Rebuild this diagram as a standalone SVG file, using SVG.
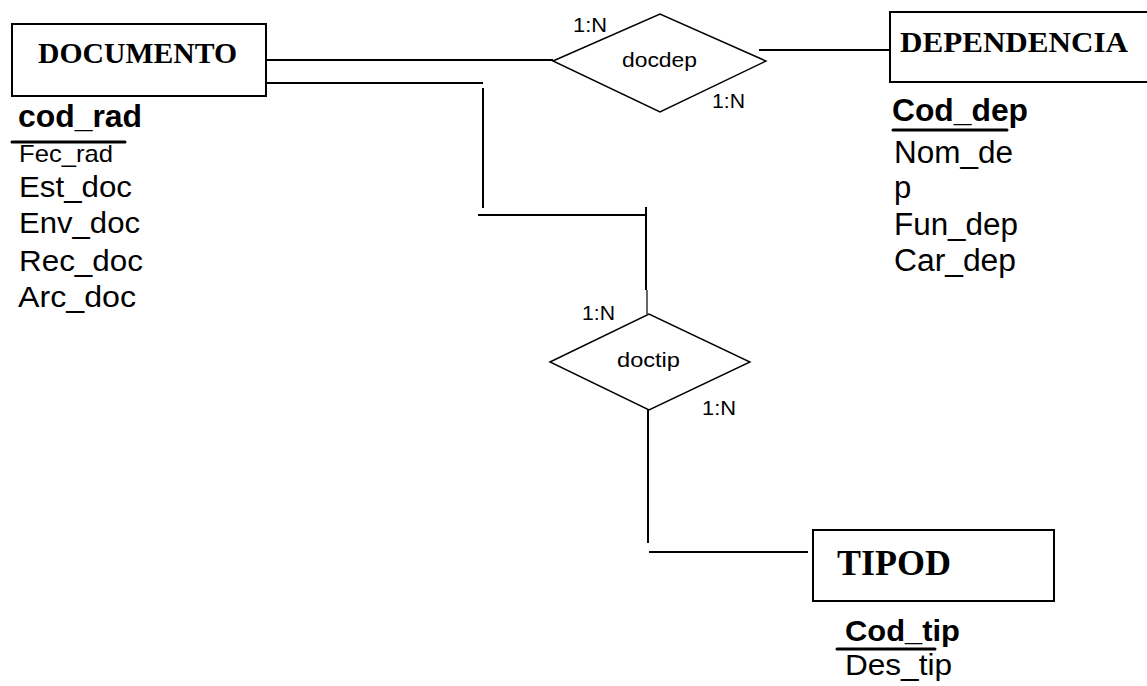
<svg xmlns="http://www.w3.org/2000/svg" width="1147" height="686" viewBox="0 0 1147 686">
<style>
.box{fill:#fff;stroke:#000;stroke-width:2}
.dia{fill:#fff;stroke:#000;stroke-width:1.4}
.ln{stroke:#000;stroke-width:2;fill:none}
.thin{stroke:#000;stroke-width:1.2;fill:none}
.ul{stroke:#000;stroke-width:3;stroke-linecap:round}
.ent{font-family:"Liberation Serif","Times New Roman",serif;font-weight:bold;fill:#000}
.att{font-family:"Liberation Sans",Arial,sans-serif;fill:#000}
.key{font-family:"Liberation Sans",Arial,sans-serif;font-weight:bold;fill:#000}
.lab{font-family:"Liberation Sans",Arial,sans-serif;font-size:21px;fill:#000}
</style>
<rect width="1147" height="686" fill="#fff"/>
<g id="connectors">
<line class="ln" x1="266" y1="60" x2="553" y2="60"/>
<line class="ln" x1="266" y1="83" x2="483" y2="83"/>
<line class="ln" x1="483" y1="88" x2="483" y2="208"/>
<line class="ln" x1="478" y1="215" x2="646" y2="215"/>
<line class="ln" x1="646" y1="207" x2="646" y2="290"/>
<line class="thin" x1="647" y1="290" x2="647" y2="314"/>
<line class="ln" x1="759" y1="50" x2="890" y2="50"/>
<line class="ln" x1="648" y1="410" x2="648" y2="543"/>
<line class="ln" x1="649" y1="552" x2="808" y2="552"/>
</g>
<g id="DOCUMENTO">
<rect class="box" x="12" y="24" width="254" height="72"/>
<text class="ent" x="38" y="63" font-size="29" textLength="199" lengthAdjust="spacingAndGlyphs">DOCUMENTO</text>
<text class="key" x="18" y="127" font-size="31" textLength="124" lengthAdjust="spacingAndGlyphs">cod_rad</text>
<line class="ul" x1="12" y1="142" x2="125" y2="142"/>
<text class="att" x="19" y="162" font-size="24" textLength="94" lengthAdjust="spacingAndGlyphs">Fec_rad</text>
<text class="att" x="19" y="197" font-size="30" textLength="113" lengthAdjust="spacingAndGlyphs">Est_doc</text>
<text class="att" x="19" y="233" font-size="30" textLength="121" lengthAdjust="spacingAndGlyphs">Env_doc</text>
<text class="att" x="19" y="271" font-size="30" textLength="124" lengthAdjust="spacingAndGlyphs">Rec_doc</text>
<text class="att" x="18" y="307" font-size="30" textLength="118" lengthAdjust="spacingAndGlyphs">Arc_doc</text>
</g>
<g id="DEPENDENCIA">
<rect class="box" x="890" y="12" width="300" height="70"/>
<text class="ent" x="900" y="52" font-size="29" textLength="228" lengthAdjust="spacingAndGlyphs">DEPENDENCIA</text>
<text class="key" x="892" y="121" font-size="31" textLength="136" lengthAdjust="spacingAndGlyphs">Cod_dep</text>
<line class="ul" x1="893" y1="130" x2="1007" y2="130"/>
<text class="att" x="894" y="163" font-size="31" textLength="119" lengthAdjust="spacingAndGlyphs">Nom_de</text>
<text class="att" x="894" y="198" font-size="31">p</text>
<text class="att" x="894" y="235" font-size="31" textLength="124" lengthAdjust="spacingAndGlyphs">Fun_dep</text>
<text class="att" x="894" y="271" font-size="31" textLength="122" lengthAdjust="spacingAndGlyphs">Car_dep</text>
</g>
<g id="docdep">
<polygon class="dia" points="553,61 660,14 766,61 660,112"/>
<text class="lab" x="622" y="67" textLength="75" lengthAdjust="spacingAndGlyphs">docdep</text>
<text class="lab" x="573" y="32" textLength="34" lengthAdjust="spacingAndGlyphs">1:N</text>
<text class="lab" x="712" y="108" textLength="33" lengthAdjust="spacingAndGlyphs">1:N</text>
</g>
<g id="doctip">
<polygon class="dia" points="550,362 649,314 750,362 649,410"/>
<text class="lab" x="617" y="367" textLength="63" lengthAdjust="spacingAndGlyphs">doctip</text>
<text class="lab" x="582" y="320" textLength="33" lengthAdjust="spacingAndGlyphs">1:N</text>
<text class="lab" x="702" y="415" textLength="34" lengthAdjust="spacingAndGlyphs">1:N</text>
</g>
<g id="TIPOD">
<rect class="box" x="813" y="530" width="241" height="71"/>
<text class="ent" x="837" y="575" font-size="35" textLength="114" lengthAdjust="spacingAndGlyphs">TIPOD</text>
<text class="key" x="845" y="641" font-size="30" textLength="115" lengthAdjust="spacingAndGlyphs">Cod_tip</text>
<line class="ul" x1="837" y1="649" x2="935" y2="649"/>
<text class="att" x="845" y="675" font-size="30" textLength="107" lengthAdjust="spacingAndGlyphs">Des_tip</text>
</g>
</svg>
